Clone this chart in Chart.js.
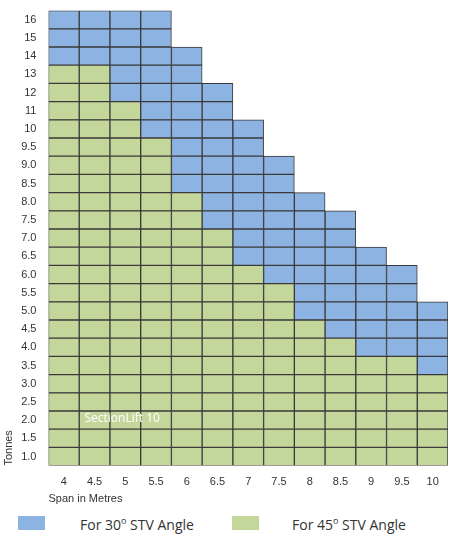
<!DOCTYPE html>
<html lang="en">
<head>
  <meta charset="UTF-8" />
  <title>SectionLift 10 - Span vs Tonnes</title>
  <script src="https://cdn.jsdelivr.net/npm/chart.js"></script>
  <style>
    body { margin: 0; width: 450px; height: 535px; background: #fff; font-family: "Open Sans", sans-serif; color: #333; position: relative; }
    #wrap { position: absolute; left: 0; top: 0; width: 450px; height: 506px; }
    .legend { position: absolute; top: 514px; font-size: 14px; color: #333; }
    .sw { position: absolute; top: 516px; width: 27px; height: 14px; }
  </style>
</head>
<body>
  <div id="wrap"><canvas id="chart"></canvas></div>
  <div class="sw" style="left:18px;background:#8db3e2"></div>
  <div class="legend" style="left:80px">For 30<sup style="font-size:9px">o</sup> STV Angle</div>
  <div class="sw" style="left:232px;background:#c4d79b"></div>
  <div class="legend" style="left:292px">For 45<sup style="font-size:9px">o</sup> STV Angle</div>

  <script>
    // tonnage rows, bottom to top
    const rowLabels = ['1.0','1.5','2.0','2.5','3.0','3.5','4.0','4.5','5.0','5.5','6.0','6.5','7.0',
                       '7.5','8.0','8.5','9.0','9.5','10','11','12','13','14','15','16'];
    const spans = ['4','4.5','5','5.5','6','6.5','7','7.5','8','8.5','9','9.5','10'];
    // highest row at 45 deg (green) and at 30 deg (blue) for each span
    const green45 = ['13','13','11','9.5','8.0','7.0','6.0','5.5','4.5','4.0','3.5','3.5','3.0'];
    const blue30  = ['16','16','16','16','14','12','10','9.0','8.0','7.5','6.5','6.0','5.0'];

    const BLUE = '#8db3e2', GREEN = '#c4d79b';
    const gIdx = green45.map(v => rowLabels.indexOf(v));
    const bIdx = blue30.map(v => rowLabels.indexOf(v));

    // one stacked dataset per row, each cell = 1 unit
    const datasets = rowLabels.map((lab, r) => ({
      label: lab,
      data: spans.map((s, c) => r <= bIdx[c] ? 1 : null),
      backgroundColor: spans.map((s, c) => r <= gIdx[c] ? GREEN : BLUE),
      borderColor: '#3a3a3a',
      borderWidth: 1,
      borderSkipped: false,
      barPercentage: 1,
      categoryPercentage: 1
    }));

    const labelPlugin = {
      id: 'seclabel',
      afterDatasetsDraw(ch) {
        const { ctx, scales } = ch;
        ctx.save();
        ctx.fillStyle = '#fff';
        ctx.font = '12px "Open Sans", sans-serif';
        ctx.textBaseline = 'middle';
        ctx.fillText('SectionLift 10', scales.x.left + 36, scales.y.getPixelForValue(2.6));
        ctx.restore();
      }
    };

    new Chart(document.getElementById('chart'), {
      type: 'bar',
      data: { labels: spans, datasets },
      plugins: [labelPlugin],
      options: {
        responsive: true,
        maintainAspectRatio: false,
        animation: false,
        layout: { padding: { top: 2, right: 2, left: 0, bottom: 0 } },
        plugins: { legend: { display: false }, tooltip: { enabled: false } },
        scales: {
          x: {
            stacked: true,
            grid: { display: false },
            border: { display: false },
            ticks: { color: '#333', font: { size: 11 }, padding: 2 },
            title: { display: true, text: 'Span in Metres', align: 'start', color: '#333', font: { size: 11 }, padding: { top: 2, bottom: 0 } }
          },
          y: {
            stacked: true,
            min: 0, max: 25,
            grid: { display: false },
            border: { display: false },
            afterBuildTicks: axis => { axis.ticks = rowLabels.map((l, i) => ({ value: i + 0.5 })); },
            ticks: { color: '#333', font: { size: 11 }, padding: 4,
                     callback: (v) => rowLabels[Math.floor(v)] },
            title: { display: true, text: 'Tonnes', align: 'start', color: '#333', font: { size: 11 }, padding: 2 }
          }
        }
      }
    });
  </script>
</body>
</html>
